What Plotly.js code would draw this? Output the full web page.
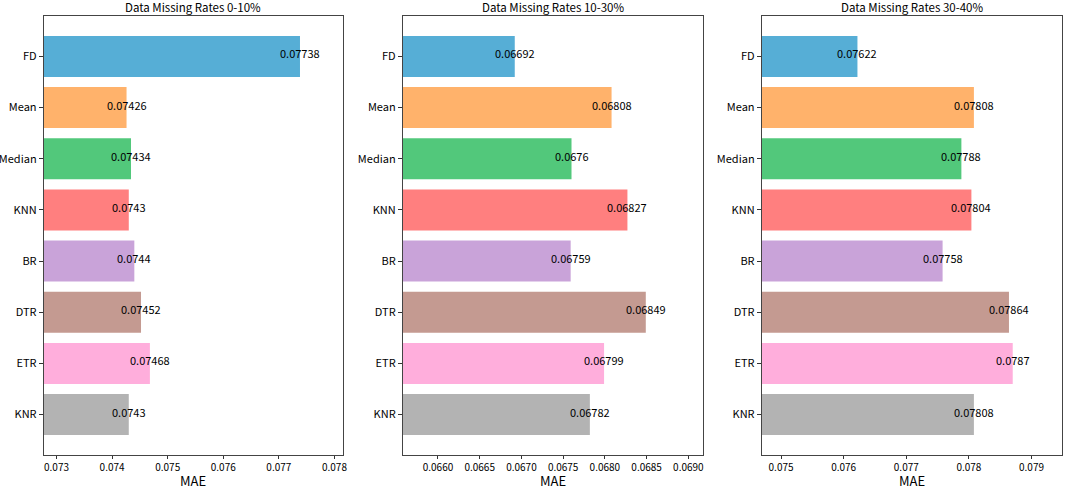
<!DOCTYPE html>
<html>
<head>
<meta charset="utf-8">
<script src="https://cdn.plot.ly/plotly-3.0.1.min.js"></script>
<style>
  html, body { margin: 0; padding: 0; background: #fff; }
  #chart { width: 1065px; height: 491px; }
</style>
</head>
<body>
<div id="chart"></div>
<script>
// methods, top to bottom
var methods = ["FD", "Mean", "Median", "KNN", "BR", "DTR", "ETR", "KNR"];
var barColors = ["#56aed6", "#ffb26b", "#52c87b", "#ff7f7f", "#c9a3d9", "#c49a91", "#ffaedc", "#b3b3b3"];

// MAE per missing-rate group
var mae_0_10 = [0.07738, 0.07426, 0.07434, 0.0743, 0.0744, 0.07452, 0.07468, 0.0743];
var mae_10_30 = [0.06692, 0.06808, 0.0676, 0.06827, 0.06759, 0.06849, 0.06799, 0.06782];
var mae_30_40 = [0.07622, 0.07808, 0.07788, 0.07804, 0.07758, 0.07864, 0.0787, 0.07808];

var panelTitles = ["Data Missing Rates 0-10%", "Data Missing Rates 10-30%", "Data Missing Rates 30-40%"];
var panelData = [mae_0_10, mae_10_30, mae_30_40];
var tickSteps = [0.001, 0.0005, 0.001];
var tickFormats = [".3f", ".4f", ".3f"];

var FONT = '"Noto Sans CJK SC", "DejaVu Sans", sans-serif';
var domains = [[0, 0.2937], [0.3527, 0.6473], [0.7053, 1]];

var traces = [];
var annotations = [];
var layout = {
  width: 1065,
  height: 491,
  margin: { l: 44, r: 3, t: 16, b: 36 },
  paper_bgcolor: "#fff",
  plot_bgcolor: "#fff",
  showlegend: false,
  font: { family: FONT, size: 11, color: "#000" },
  bargap: 0.2
};

panelData.forEach(function (vals, i) {
  var n = i + 1;
  var xa = n === 1 ? "x" : "x" + n;
  var ya = n === 1 ? "y" : "y" + n;
  traces.push({
    type: "bar",
    orientation: "h",
    x: vals,
    y: methods,
    xaxis: xa,
    yaxis: ya,
    marker: { color: barColors, line: { width: 0 } },
    width: 0.8,
    hoverinfo: "x+y"
  });

  var lo = Math.min.apply(null, vals) * 0.98;
  var hi = Math.max.apply(null, vals) * 1.01;

  layout["xaxis" + (n === 1 ? "" : n)] = {
    domain: domains[i],
    anchor: ya,
    range: [lo, hi],
    dtick: tickSteps[i],
    tickformat: tickFormats[i],
    ticks: "outside",
    ticklen: 3,
    tickcolor: "#333",
    showgrid: false,
    zeroline: false,
    showline: true,
    mirror: true,
    linecolor: "#444",
    linewidth: 1.2,
    tickfont: { size: 10 }
  };
  layout["yaxis" + (n === 1 ? "" : n)] = {
    anchor: xa,
    type: "category",
    range: [7.79, -0.79],
    ticks: "outside",
    ticklen: 4,
    tickcolor: "#333",
    showgrid: false,
    zeroline: false,
    showline: true,
    mirror: true,
    linecolor: "#444",
    linewidth: 1.2,
    tickfont: { size: 11 }
  };

  // panel title
  annotations.push({
    text: panelTitles[i],
    xref: "paper",
    yref: "paper",
    x: (domains[i][0] + domains[i][1]) / 2,
    y: 1,
    xanchor: "center",
    yanchor: "bottom",
    yshift: -1,
    showarrow: false,
    font: { size: 11.5 }
  });

  // x axis label, pinned to the bottom edge
  annotations.push({
    text: "MAE",
    xref: "paper",
    yref: "paper",
    x: (domains[i][0] + domains[i][1]) / 2,
    y: 0,
    xanchor: "center",
    yanchor: "bottom",
    yshift: -37,
    showarrow: false,
    font: { size: 13 }
  });

  vals.forEach(function (v, k) {
    annotations.push({
      text: String(v),
      xref: xa,
      yref: ya,
      x: v,
      y: methods[k],
      xanchor: "center",
      yanchor: "middle",
      yshift: 3,
      showarrow: false,
      font: { size: 11 }
    });
  });
});

layout.annotations = annotations;

Plotly.newPlot("chart", traces, layout, { staticPlot: true });
</script>
</body>
</html>
